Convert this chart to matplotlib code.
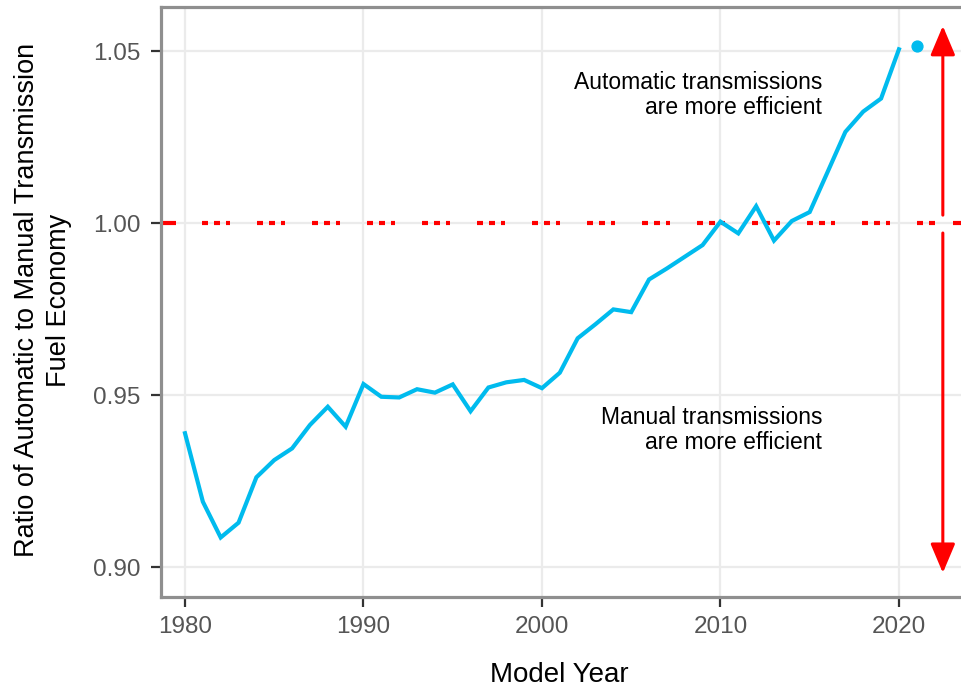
import matplotlib
matplotlib.use("Agg")
import matplotlib.pyplot as plt

plt.rcParams['font.family'] = ['Liberation Sans', 'DejaVu Sans']
plt.rcParams['lines.scale_dashes'] = False

years = list(range(1980, 2021))
ratio = [0.9389, 0.9190, 0.9086, 0.9129, 0.9261, 0.9311, 0.9345, 0.9413, 0.9466, 0.9408,
         0.9532, 0.9495, 0.9493, 0.9517, 0.9507, 0.9531, 0.9453, 0.9522, 0.9537, 0.9544,
         0.9520, 0.9565, 0.9665, 0.9706, 0.9749, 0.9741, 0.9836, 0.9868, 0.9902, 0.9936,
         1.0004, 0.9970, 1.0049, 0.9949, 1.0006, 1.0032, 1.0148, 1.0265, 1.0324, 1.0362,
         1.0505]
prelim_year = [2021]
prelim_ratio = [1.0515]

xticks = [1980, 1990, 2000, 2010, 2020]
yticks = [0.90, 0.95, 1.00, 1.05]
ytick_labels = ["0.90", "0.95", "1.00", "1.05"]

blue = '#00BBEE'
red = '#FF0000'

W, H = 961, 687
fig = plt.figure(figsize=(W / 100, H / 100), dpi=100)
left_px, right_px, top_px, bot_px = 161, 963, 7, 597
ax = fig.add_axes([left_px / W, 1 - bot_px / H, (right_px - left_px) / W, (bot_px - top_px) / H])

xmin, xmax = 1978.655, 2023.59
ymin, ymax = 0.8913, 1.0628
ax.set_xlim(xmin, xmax)
ax.set_ylim(ymin, ymax)

ax.set_xticks(xticks)
ax.set_yticks(yticks)
ax.set_yticklabels(ytick_labels)
ax.grid(True, color='#EBEBEB', linewidth=1.6, zorder=0)
ax.set_axisbelow(True)

for s in ['left', 'bottom', 'top', 'right']:
    ax.spines[s].set_color('#8F8F8F')
    ax.spines[s].set_linewidth(2.3)

ax.tick_params(axis='both', length=7, width=1.6, color='#333333',
               labelcolor='#555555', labelsize=17.5)
ax.tick_params(axis='x', pad=7)
ax.tick_params(axis='y', pad=8)

# reference line at 1.00
dash = (0, (4.32, 4.32, 4.32, 4.32, 2.88, 19.44))
px_per_year = 17.85
x_dash_start = 1980 + (202 - 185) / px_per_year
x_dash_end = 1980 + (938 - 185) / px_per_year
ax.plot([x_dash_start, x_dash_end], [1.0, 1.0], color=red, lw=3.0, linestyle=dash,
        solid_capstyle='butt', dash_capstyle='butt', zorder=2)
ax.plot([xmin, 1980 + (176 - 185) / px_per_year], [1.0, 1.0], color=red, lw=3.0,
        solid_capstyle='butt', zorder=2)
ax.plot([1980 + (953 - 185) / px_per_year, xmax], [1.0, 1.0], color=red, lw=3.0,
        solid_capstyle='butt', zorder=2)

# series
ax.plot(years, ratio, color=blue, lw=3.0, zorder=3, solid_joinstyle='miter')
ax.plot(prelim_year, prelim_ratio, 'o', color=blue, markersize=7.8, zorder=3)

# arrows
arrow_x = 2022.46
ap = dict(arrowstyle='-|>,head_length=0.9,head_width=0.38', color=red, lw=2.2,
          mutation_scale=20, shrinkA=0, shrinkB=0)
ax.annotate('', xy=(arrow_x, 1.0573), xytext=(arrow_x, 1.0023), arrowprops=ap, zorder=4)
ax.annotate('', xy=(arrow_x, 0.8983), xytext=(arrow_x, 0.9971), arrowprops=ap, zorder=4)

# annotations
ax.text(2015.7, 1.0372, "Automatic transmissions\nare more efficient", ha='right', va='center',
        fontsize=16.5, color='black', linespacing=1.15)
ax.text(2015.7, 0.9398, "Manual transmissions\nare more efficient", ha='right', va='center',
        fontsize=16.5, color='black', linespacing=1.15)

# axis titles
fig.text(43 / W, 1 - 300 / H, "Ratio of Automatic to Manual Transmission\nFuel Economy",
         rotation=90, ha='center', va='center', multialignment='center', fontsize=19.5,
         color='black', linespacing=1.25)
fig.text(559 / W, 1 - 675 / H, "Model Year", ha='center', va='center', fontsize=20,
         color='black')

fig.savefig('out.png', dpi=100)
